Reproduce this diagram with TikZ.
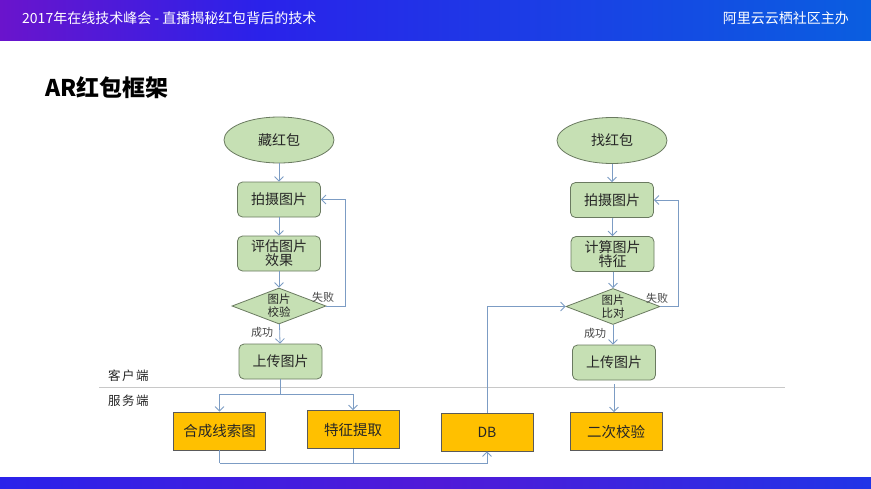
\documentclass[tikz,border=0pt]{standalone}
\usepackage{fontspec}
\setmainfont{Noto Sans CJK SC}
\newfontfamily\cjk{Noto Sans CJK SC}
\usetikzlibrary{shapes.geometric,arrows.meta}
\definecolor{gfill}{HTML}{C6E0B4}
\definecolor{gdraw}{HTML}{6A7A60}
\definecolor{ofill}{HTML}{FFC000}
\definecolor{odraw}{HTML}{5A5A5A}
\definecolor{lnk}{HTML}{7C9CC4}
\definecolor{txt}{HTML}{262626}
\definecolor{hpurple}{HTML}{6A14CC}
\definecolor{hblue}{HTML}{2A22EA}
\definecolor{hright}{HTML}{0A5EE0}
\definecolor{sep}{HTML}{C8C8C8}
\tikzset{
  x=1pt,y=-1pt,
  every node/.style={font=\cjk, text=txt},
  oval/.style={ellipse, draw=gdraw, fill=gfill, line width=0.8pt, minimum width=110pt, minimum height=46pt, inner sep=0pt, font=\cjk\fontsize{14}{16}\selectfont},
  gbox/.style={rectangle, rounded corners=5pt, draw=gdraw, fill=gfill, line width=0.8pt, minimum width=83pt, minimum height=35pt, inner sep=0pt, align=center, font=\cjk\fontsize{14}{16}\selectfont},
  dia/.style={diamond, draw=gdraw, fill=gfill, line width=0.8pt, minimum width=94pt, minimum height=36pt, inner sep=0pt},
  diatext/.style={align=center, font=\cjk\fontsize{11.5}{13}\selectfont, inner sep=0pt},
  obox/.style={rectangle, draw=odraw, fill=ofill, line width=0.8pt, minimum width=92pt, minimum height=38pt, inner sep=0pt, font=\cjk\fontsize{14.5}{16}\selectfont},
  lbl/.style={font=\cjk\fontsize{11}{13}\selectfont, text=txt!85, inner sep=0pt},
  side/.style={font=\cjk\fontsize{12.5}{14}\selectfont, text=txt, inner sep=0pt},
  arr/.style={draw=lnk, line width=0.8pt, -{Straight Barb[length=4.5pt,width=9pt]}},
  ln/.style={draw=lnk, line width=0.8pt},
}
\begin{document}
\begin{tikzpicture}
\useasboundingbox (0,0) rectangle (871,488);
\fill[white] (0,0) rectangle (871,488);
% header
\shade[left color=hpurple, right color=hblue] (0,0) rectangle (260,40);
\shade[left color=hblue, right color=hright] (260,0) rectangle (871,40);
\node[anchor=west, text=white, font=\cjk\fontsize{14}{16}\selectfont, inner sep=0pt] (htitle) at (22,18) {2017年在线技术峰会 - 直播揭秘红包背后的技术};
\node[anchor=east, text=white, font=\cjk\fontsize{14}{16}\selectfont, inner sep=0pt] (horg) at (849,18) {阿里云云栖社区主办};
% footer
\shade[left color=hblue, right color=hblue!70!hright, middle color=hpurple!60!hblue] (0,477) rectangle (871,488);
% title
\node[anchor=west, font=\cjk\bfseries\fontsize{23}{26}\selectfont, text=black, inner sep=0pt] (title) at (45,88) {AR红包框架};

% separator
\draw[sep, line width=1pt] (99,387) -- (785,387);
\node[side, anchor=west] (client) at (108,376) {客\hspace{1.5pt}户\hspace{1.5pt}端};
\node[side, anchor=west] (server) at (108,401) {服\hspace{1.5pt}务\hspace{1.5pt}端};

% left column
\node[oval] (e1) at (279,140) {藏红包};
\node[gbox] (b1) at (279,199.5) {拍摄图片};
\node[gbox] (b2) at (279,253.5) {评估图片\\[-2pt]效果};
\node[dia] (d1) at (279,306) {};
\node[diatext] (d1t) at (d1.center) {图片\\校验};
\node[gbox] (u1) at (280.5,361.5) {上传图片};
\node[lbl] (f1) at (323,297) {失败};
\node[lbl] (s1) at (262,332) {成功};

% right column
\node[oval] (e2) at (612,140.5) {找红包};
\node[gbox] (b3) at (612,200) {拍摄图片};
\node[gbox] (b4) at (612.5,254) {计算图片\\[-2pt]特征};
\node[dia] (d2) at (613,306.5) {};
\node[diatext] (d2t) at (d2.center) {图片\\比对};
\node[gbox] (u2) at (614,362.5) {上传图片};
\node[lbl] (f2) at (657,298) {失败};
\node[lbl] (s2) at (595,333) {成功};

% server boxes
\node[obox] (c1) at (219.5,431) {合成线索图};
\node[obox] (c2) at (353,429.5) {特征提取};
\node[obox, font=\fontsize{14}{15}\selectfont] (db) at (487,432) {DB};
\node[obox] (c4) at (616,431.5) {二次校验};

\coordinate (split) at (280.5,394);
\coordinate (jn) at (219.5,463);

% connectors left
\draw[arr] (e1) -- (b1);
\draw[arr] (b1) -- (b2);
\draw[arr] (b2) -- (d1);
\draw[arr] (d1) -- (u1);
\draw[arr] (d1.east) -- (345,306) -- (345,199.5) -- (b1.east);
% connectors right
\draw[arr] (e2) -- (b3);
\draw[arr] (b3) -- (b4 |- b3.south) -- (b4);
\draw[arr] (b4.south) -- (b4.south -| d2) -- (d2);
\draw[arr] (d2) -- (d2.south |- u2.north);
\draw[arr] (d2.east) -- (678,306.5) -- (678,200) -- (b3.east);
\draw[arr] ([yshift=-4pt]u2.south) -- (u2.south |- c4.north);
% server side
\draw[ln] (u1.south) -- (split);
\draw[arr] (c1 |- split) -- (c1.north);
\draw[arr] (c2 |- split) -- (c2.north);
\draw[ln] (c1 |- split) -- (c2 |- split);
\draw[ln] (c1.south) -- (jn);
\draw[ln] (c2.south) -- (c2.south |- jn);
\draw[arr] (jn) -- (jn -| db) -- (db.south);
\draw[arr] (db.north) -- (db.north |- d2.west) -- (d2.west);
\end{tikzpicture}
\end{document}
